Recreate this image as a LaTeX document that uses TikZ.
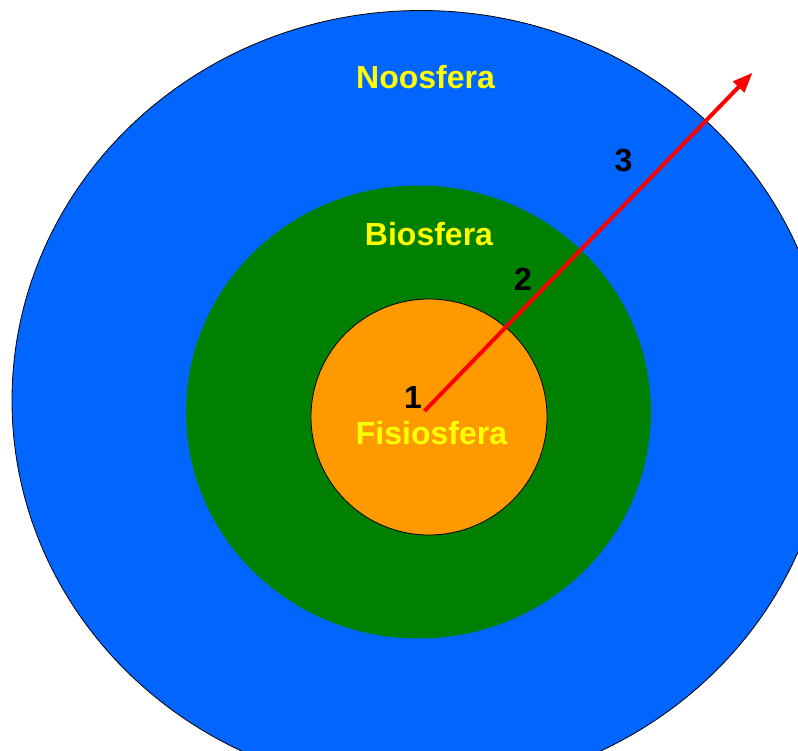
\documentclass[tikz,border=0pt]{standalone}
\usepackage{fontspec}
\setmainfont{Liberation Sans}
\usetikzlibrary{arrows.meta}
\definecolor{noo}{RGB}{0,102,255}
\definecolor{bio}{RGB}{0,128,0}
\definecolor{fis}{RGB}{255,153,0}
\definecolor{lab}{RGB}{255,255,0}
\begin{document}
\begin{tikzpicture}[x=1pt,y=-1pt,
  lbl/.style={font=\fontsize{32}{32}\selectfont\bfseries, inner sep=0pt, anchor=base},
  sphere/.style={text=lab},
  num/.style={text=black},
  ray/.style={draw=red, line width=4pt, -{Triangle[length=20pt,width=15pt]}}]
\useasboundingbox (0,0) rectangle (798,751);
% spheres
\fill[noo, draw=black, line width=0.8pt] (421,400.5) ellipse [x radius=409pt, y radius=390pt];
\fill[bio] (418.5,412) ellipse [x radius=232.5pt, y radius=226.5pt];
\fill[fis, draw=black, line width=0.8pt] (429,417) ellipse [x radius=118pt, y radius=118pt];
% labels
\node[lbl, sphere] (noosfera) at (425.5,89) {Noosfera};
\node[lbl, sphere] (biosfera) at (429,246) {Biosfera};
\node[lbl, sphere] (fisiosfera) at (431.5,444) {Fisiosfera};
% arrow
\coordinate (start) at (424.5,411);
\coordinate (tip) at (752.5,72.7);
\draw[ray] (start) -- (tip);
\node[lbl, num] (n1) at (413,408) {1};
\node[lbl, num] (n2) at (523,291) {2};
\node[lbl, num] (n3) at (623.5,172) {3};
\end{tikzpicture}
\end{document}
